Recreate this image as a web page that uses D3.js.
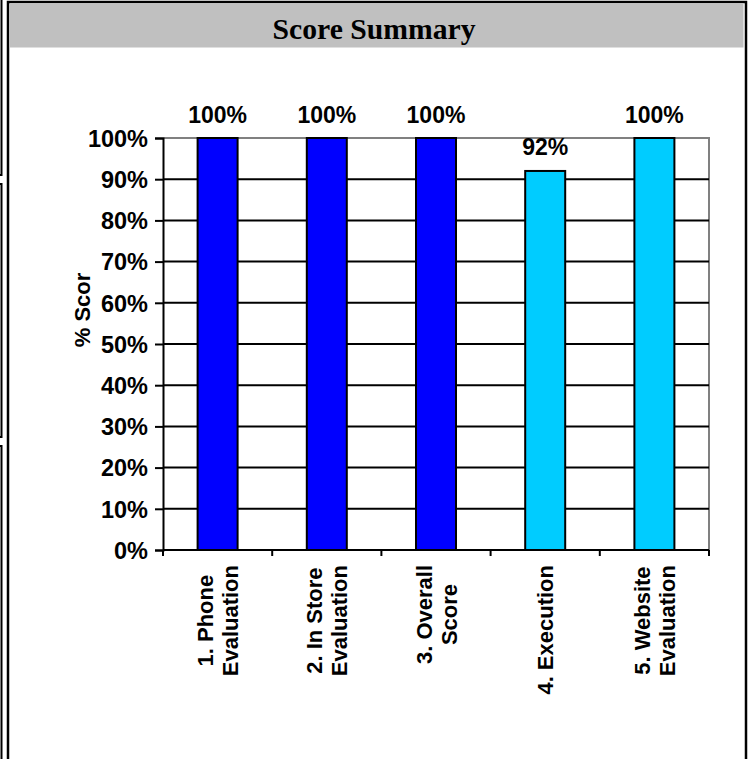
<!DOCTYPE html>
<html><head><meta charset="utf-8">
<script src="https://cdn.jsdelivr.net/npm/d3@7"></script>
<style>body{margin:0;background:#fff}svg{display:block}</style>
</head><body>
<svg id="c" width="752" height="759"></svg>
<script>
const title = "Score Summary";
const categories = ["1. Phone\nEvaluation","2. In Store\nEvaluation","3. Overall\nScore","4. Execution","5. Website\nEvaluation"];
const values = [1.00, 1.00, 1.00, 0.92, 1.00];
const colors = ["#0000FF","#0000FF","#0000FF","#00CCFF","#00CCFF"];
const yTicks = [0,0.1,0.2,0.3,0.4,0.5,0.6,0.7,0.8,0.9,1.0];
const yTitle = "% Scor";

const svg = d3.select("#c");
const W = 752, H = 759;
const SANS = "Liberation Sans, Arial, sans-serif";
svg.append("rect").attr("width",W).attr("height",H).attr("fill","#fff");

// left edge artefacts (neighbouring cells)
const edge = svg.append("g").attr("stroke","#000").attr("stroke-width",2).attr("fill","none");
edge.append("path").attr("d","M1.5,0 V175 H-2");
edge.append("path").attr("d","M-2,184 H1.5 V437 H-2");
edge.append("path").attr("d","M-2,446 H1.5 V760");

// outer frame
svg.append("rect").attr("x",8).attr("y",2).attr("width",738).attr("height",H+10)
  .attr("fill","none").attr("stroke","#000").attr("stroke-width",2.5);
// title band
svg.append("rect").attr("x",9.5).attr("y",4).attr("width",734).attr("height",43.5).attr("fill","#C0C0C0");
svg.append("text").attr("x",374).attr("y",39).attr("text-anchor","middle")
  .attr("font-family","Liberation Serif, Times New Roman, serif").attr("font-weight","bold")
  .attr("font-size",30).attr("textLength",203).attr("lengthAdjust","spacingAndGlyphs").text(title);

const x0 = 163, x1 = 709, yTop = 138, yBot = 550;
const x = d3.scaleBand().domain(categories).range([x0,x1]).paddingInner(0).paddingOuter(0);
const y = d3.scaleLinear().domain([0,1]).range([yBot,yTop]);

// plot border gray
svg.append("path").attr("d",`M${x0},${yTop} H${x1} V${yBot}`).attr("fill","none").attr("stroke","#808080").attr("stroke-width",2);

// gridlines
svg.append("g").selectAll("line").data(yTicks.filter(d=>d>0 && d<1)).join("line")
  .attr("x1",x0).attr("x2",x1).attr("y1",d=>y(d)).attr("y2",d=>y(d))
  .attr("stroke","#000").attr("stroke-width",2);

// y axis
const yAxis = svg.append("g").attr("transform",`translate(${x0},0)`)
  .call(d3.axisLeft(y).tickValues(yTicks).tickFormat(d3.format(".0%")).tickSize(8).tickPadding(7));
yAxis.select(".domain").attr("stroke","#000").attr("stroke-width",2);
yAxis.selectAll(".tick line").attr("stroke","#000").attr("stroke-width",2);
yAxis.selectAll("text").attr("font-family",SANS).attr("font-weight","bold")
  .attr("font-size",23.5).attr("fill","#000").attr("dy","0.35em");

// bars
const bw = 40;
svg.append("g").selectAll("rect").data(categories).join("rect")
  .attr("x",d=>x(d)+x.bandwidth()/2-bw/2).attr("width",bw)
  .attr("y",(d,i)=>y(values[i])).attr("height",(d,i)=>yBot-y(values[i]))
  .attr("fill",(d,i)=>colors[i]).attr("stroke","#000").attr("stroke-width",2);

// data labels
svg.append("g").selectAll("text").data(categories).join("text")
  .attr("x",d=>x(d)+x.bandwidth()/2).attr("y",(d,i)=>values[i]>=1 ? 123 : y(values[i])-16)
  .attr("text-anchor","middle").attr("font-family",SANS)
  .attr("font-weight","bold").attr("font-size",23).text((d,i)=>d3.format(".0%")(values[i]));

// x axis
svg.append("line").attr("x1",x0).attr("x2",x1).attr("y1",yBot).attr("y2",yBot).attr("stroke","#000").attr("stroke-width",2);
const bounds = categories.map(d=>x(d)).concat([x1]);
svg.append("g").selectAll("line").data(bounds).join("line")
  .attr("x1",d=>d).attr("x2",d=>d).attr("y1",yBot).attr("y2",yBot+6).attr("stroke","#000").attr("stroke-width",2);

// x labels (rotated, lines centred within block, block starting just below axis)
const lab = svg.append("g");
categories.forEach((c,i)=>{
  const lines = c.split("\n");
  const cx = x(c)+x.bandwidth()/2;
  const g = lab.append("g");
  const texts = lines.map((t,j)=> g.append("text").attr("text-anchor","middle")
    .attr("font-family",SANS).attr("font-weight","bold")
    .attr("font-size",22).text(t));
  const maxLen = d3.max(texts, t=>t.node().getComputedTextLength());
  const lh = 25;
  const n = lines.length;
  texts.forEach((t,j)=>{
    const off = (j-(n-1)/2)*lh;
    t.attr("transform",`translate(${cx+off+8},${565+maxLen/2}) rotate(-90)`);
  });
});

// y title
svg.append("text").attr("transform","translate(90,310) rotate(-90)").attr("text-anchor","middle")
  .attr("font-family",SANS).attr("font-weight","bold").attr("font-size",22)
  .text(yTitle);
</script>
</body></html>
